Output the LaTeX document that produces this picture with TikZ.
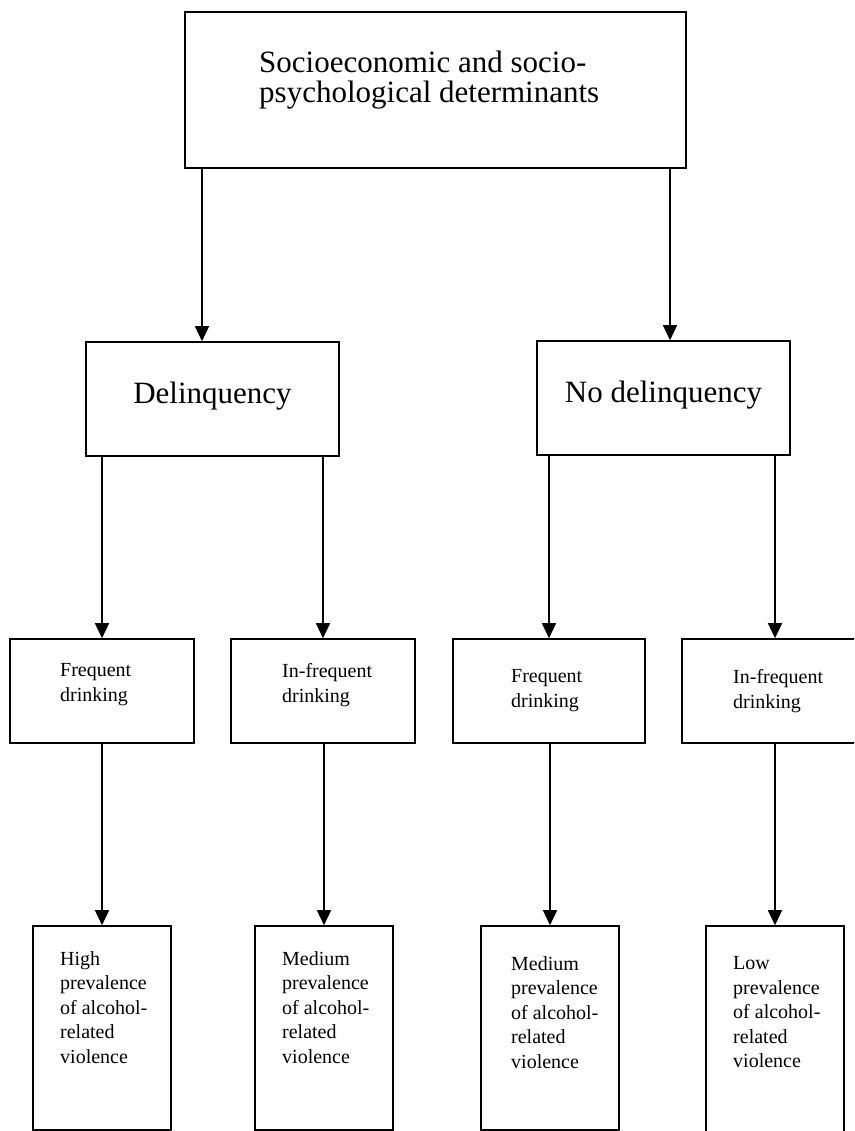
\documentclass[tikz,border=0pt]{standalone}
\usepackage{fontspec}
\setmainfont{Liberation Serif}
\usetikzlibrary{arrows.meta}

\begin{document}
\begin{tikzpicture}[x=1pt,y=-1pt]
\tikzstyle{box}=[draw,line width=1.6pt,inner sep=0pt]
\tikzstyle{big}=[font=\fontsize{31}{30}\selectfont]
\tikzstyle{txt}=[font=\fontsize{20}{24.5}\selectfont,align=left,anchor=north west,inner sep=0pt]
\tikzstyle{arr}=[line width=1.5pt,-{Triangle[length=15pt,width=14pt]}]
\useasboundingbox (0,0) rectangle (854,1131);
\clip (0,0) rectangle (854,1131);

% top level
\node [box,minimum width=501pt,minimum height=156pt] (top) at (435.5,90) {};
\node [big,align=left,anchor=north west,inner sep=0pt] (toptxt) at (259,50.8)
  {Socioeconomic and socio-\\psychological determinants};

% second level
\node [box,big,minimum width=253pt,minimum height=114pt,text depth=12pt] (dlq) at (212.5,399) {Delinquency};
\node [box,big,minimum width=253pt,minimum height=114pt,text depth=12pt] (nodlq) at (663.5,398) {No delinquency};

% drinking
\node [box,minimum width=184pt,minimum height=104pt] (f1) at (102,691) {};
\node [box,minimum width=184pt,minimum height=104pt] (i1) at (323,691) {};
\node [box,minimum width=192pt,minimum height=104pt] (f2) at (549,691) {};
\node [box,minimum width=190pt,minimum height=104pt] (i2) at (777,691) {};
\node [txt] (f1txt) at (60,663.5) {Frequent\\drinking};
\node [txt] (i1txt) at (282,663.5) {In-frequent\\drinking};
\node [txt] (f2txt) at (511,669.5) {Frequent\\drinking};
\node [txt] (i2txt) at (733,669.5) {In-frequent\\drinking};

% prevalence
\node [box,minimum width=138pt,minimum height=204pt] (high) at (102,1028) {};
\node [box,minimum width=138pt,minimum height=204pt] (med1) at (324,1028) {};
\node [box,minimum width=138pt,minimum height=204pt] (med2) at (550,1028) {};
\node [box,minimum width=138pt,minimum height=224pt] (low) at (775,1038) {};
\node [txt] (hightxt) at (60,951.3) {High\\prevalence\\of alcohol-\\related\\violence};
\node [txt] (med1txt) at (282,951.3) {Medium\\prevalence\\of alcohol-\\related\\violence};
\node [txt] (med2txt) at (511,956.3) {Medium\\prevalence\\of alcohol-\\related\\violence};
\node [txt] (lowtxt) at (733,956.3) {Low\\prevalence\\of alcohol-\\related\\violence};

\coordinate (dlqin) at ([xshift=-10.5pt]dlq.north);
\coordinate (nodlqin) at ([xshift=6.5pt]nodlq.north);

\path[arr]
(top.south -| dlqin) edge (dlqin)
(top.south -| nodlqin) edge (nodlqin)
(dlq.south -| f1.north) edge (f1.north)
(dlq.south -| i1.north) edge (i1.north)
(nodlq.south -| f2.north) edge (f2.north)
(nodlq.south -| low.north) edge (i2.north -| low.north)
(f1.south) edge (high.north)
(i1.south -| med1.north) edge (med1.north)
(f2.south -| med2.north) edge (med2.north)
(i2.south -| low.north) edge (low.north);
\end{tikzpicture}
\end{document}
